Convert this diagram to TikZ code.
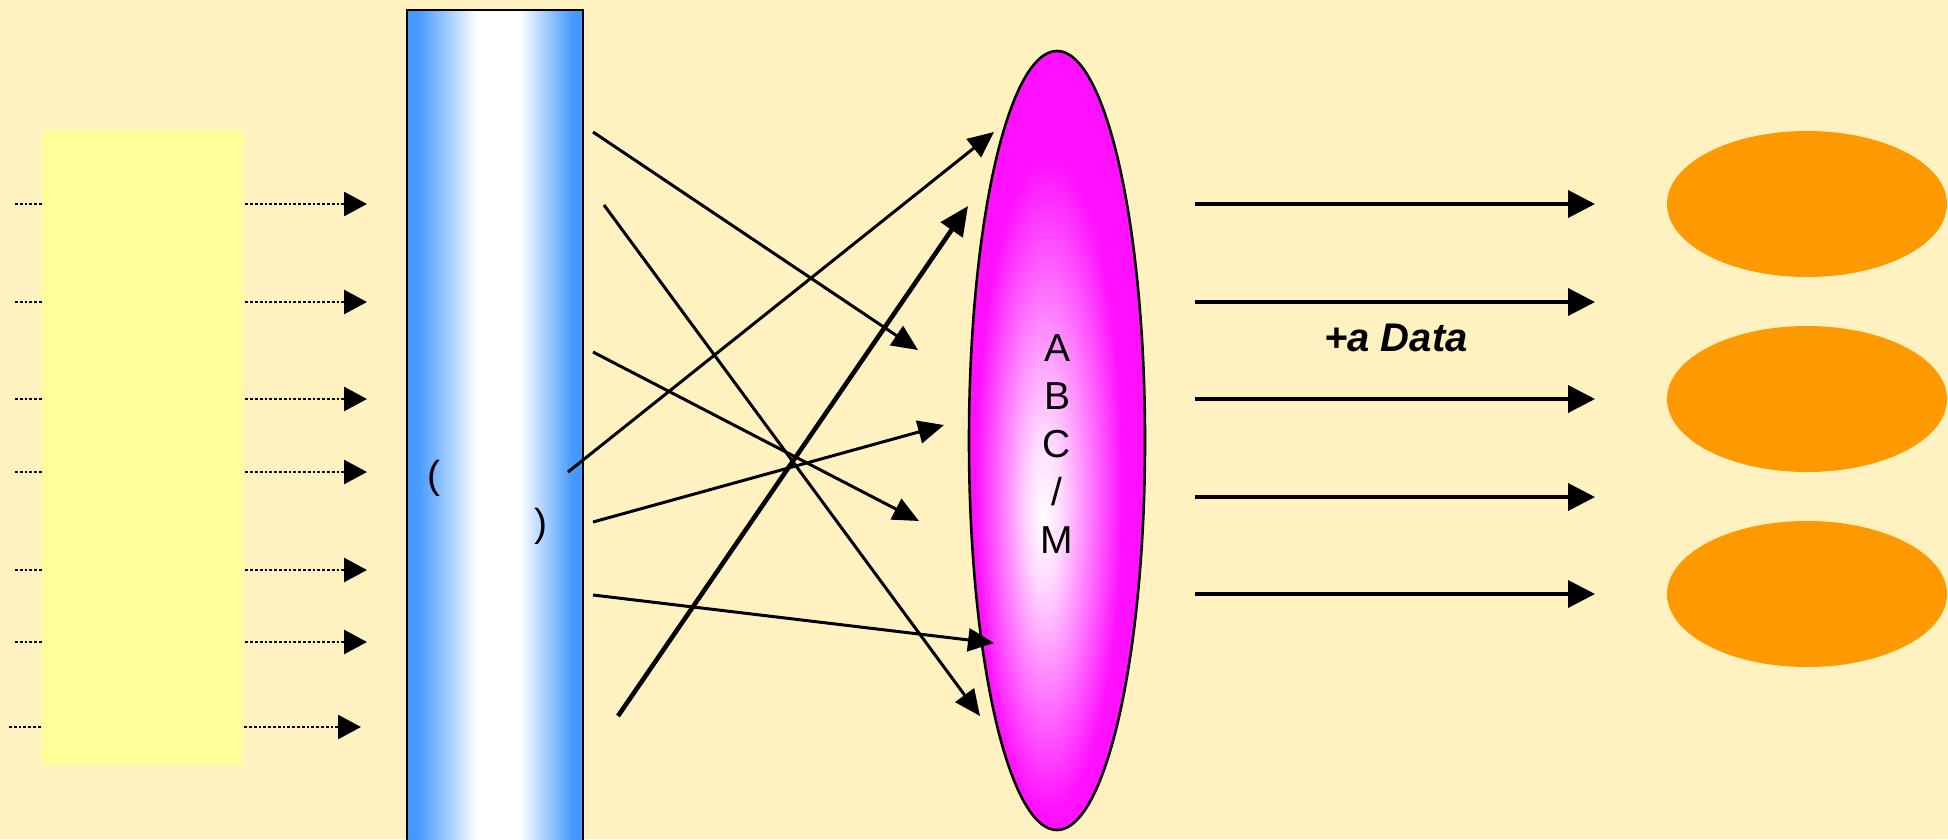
\documentclass[tikz,border=0pt]{standalone}
\usepackage{fontspec}
\setmainfont{Liberation Sans}
\usetikzlibrary{arrows.meta,shapes.geometric}
\definecolor{bg}{HTML}{FFF2C0}
\definecolor{yel}{HTML}{FFFF99}
\definecolor{bluee}{HTML}{4499FF}
\definecolor{mag}{HTML}{FF10FF}
\definecolor{magl}{HTML}{FFD8FF}
\definecolor{orng}{HTML}{FF9900}
\pgfdeclarehorizontalshading{barshade}{100bp}{color(0bp)=(bluee); color(28bp)=(bluee); color(45bp)=(white); color(57bp)=(white); color(72bp)=(bluee); color(100bp)=(bluee)}
\pgfdeclareradialshading{magshade}{\pgfpoint{-4bp}{-5bp}}{color(0bp)=(white); color(5bp)=(magl); color(21bp)=(mag); color(50bp)=(mag)}
\tikzset{
  dotarrow/.style={line width=2.8pt, dash pattern=on 2.8pt off 2pt, -{Triangle[length=23pt,width=24pt]}},
  crossarrow/.style={line width=3pt, -{Triangle[length=26pt,width=23pt]}},
  thickarrow/.style={line width=4.6pt, -{Triangle[length=29pt,width=26pt]}},
  outarrow/.style={line width=3.8pt, -{Triangle[length=27pt,width=27pt]}},
  outell/.style={ellipse, fill=orng, minimum width=280pt, minimum height=146pt, inner sep=0pt},
  bigtxt/.style={font=\fontsize{39}{48}\selectfont}
}
\begin{document}
\begin{tikzpicture}[x=1pt,y=-1pt]
\useasboundingbox (0,0) rectangle (1948,839);
\fill[bg] (0,0) rectangle (1948,839);

% dotted input arrows
\foreach \i/\y/\xs/\xe in {1/204/15/367, 2/302/15/367, 3/399/15/367, 4/472/15/367, 5/570/15/367, 6/642/15/367, 7/727/9/361}{
  \coordinate (ds\i) at (\xs,\y);
  \coordinate (de\i) at (\xe,\y);
  \draw[dotarrow] (ds\i) -- (de\i);
}

% yellow source block
\node[fill=yel, minimum width=201pt, minimum height=635pt, inner sep=0pt, anchor=north west] (src) at (42,130) {};

% blue bar
\node[draw, line width=2.2pt, shading=barshade,
      minimum width=176pt, minimum height=834pt, inner sep=0pt, anchor=north west] (bar) at (406,9) {};
\node[bigtxt] (lp) at (434,478) {(};
\node[bigtxt] (rp) at (541,526) {)};

% magenta ellipse
\node[ellipse, draw, line width=2.6pt, shading=magshade,
      minimum width=176pt, minimum height=779pt, inner sep=0pt] (mux) at (1057,440.5) {};
\node[bigtxt, align=center] (lbl) at (1057,444) {A\\B\\C\\/\\M};

% crossing arrows
\coordinate (a1) at (593,132);  \coordinate (b1) at (918,350);
\coordinate (a2) at (604,205);  \coordinate (b2) at (980,716);
\coordinate (a3) at (593,352);  \coordinate (b3) at (919,521);
\coordinate (a4) at (593,522);  \coordinate (b4) at (944,425);
\coordinate (a5) at (593,595);  \coordinate (b5) at (994,643);
\coordinate (a6) at (568,472);  \coordinate (b6) at (994,132);
\coordinate (a7) at (618,716);  \coordinate (b7) at (968,206);
\draw[crossarrow] (a1) -- (b1);
\draw[crossarrow] (a2) -- (b2);
\draw[crossarrow] (a3) -- (b3);
\draw[crossarrow] (a4) -- (b4);
\draw[crossarrow] (a5) -- (b5);
\draw[crossarrow] (a6) -- (b6);
\draw[thickarrow] (a7) -- (b7);

% output arrows
\foreach \i/\y in {1/204, 2/302, 3/399, 4/497, 5/594}{
  \coordinate (os\i) at (1195,\y);
  \coordinate (oe\i) at (1595,\y);
  \draw[outarrow] (os\i) -- (oe\i);
}
\node[font=\fontsize{40}{48}\selectfont\bfseries\itshape] (data) at (1396,338) {+a Data};

% orange ellipses
\node[outell] (o1) at (1807,204) {};
\node[outell] (o2) at (1807,399) {};
\node[outell] (o3) at (1807,594) {};
\end{tikzpicture}
\end{document}
